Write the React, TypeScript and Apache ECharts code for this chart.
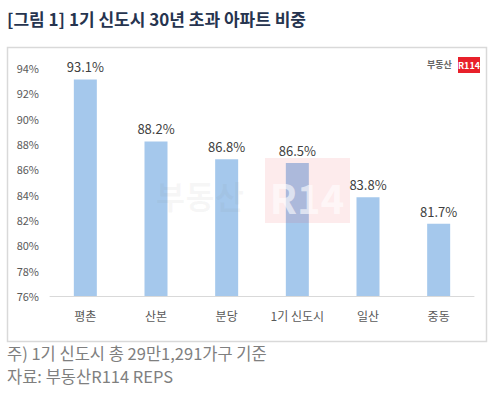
import React, { useEffect, useRef } from "react";
import * as echarts from "echarts";

const categories = ["평촌", "산본", "분당", "1기 신도시", "일산", "중동"];
const shares = [93.1, 88.2, 86.8, 86.5, 83.8, 81.7];
const yMin = 76;
const yMax = 94;
const yStep = 2;
const titleText = "[그림 1] 1기 신도시 30년 초과 아파트 비중";
const noteText = "주) 1기 신도시 총 29만1,291가구 기준";
const sourceText = "자료: 부동산R114 REPS";

const FONT = "'Malgun Gothic', 'Noto Sans CJK KR', 'Noto Sans', sans-serif";

export default function App() {
  const ref = useRef<HTMLDivElement>(null);
  useEffect(() => {
    if (!ref.current) return;
    const chart = echarts.init(ref.current, null, { renderer: "svg" });
    chart.setOption({
      animation: false,
      backgroundColor: "#ffffff",
      textStyle: { fontFamily: FONT },
      grid: { left: 50, right: 24, top: 68, bottom: 102 },
      xAxis: {
        type: "category",
        data: categories,
        axisLine: { lineStyle: { color: "#d9d9d9", width: 1 } },
        axisTick: { show: false },
        axisLabel: { color: "#595959", fontSize: 12, margin: 13, fontFamily: FONT },
      },
      yAxis: {
        type: "value",
        min: yMin,
        max: yMax,
        interval: yStep,
        splitLine: { show: false },
        axisLine: { show: false },
        axisTick: { show: false },
        axisLabel: {
          formatter: "{value}%",
          color: "#595959",
          fontSize: 11,
          margin: 11,
          fontFamily: FONT,
        },
      },
      series: [
        {
          type: "bar",
          data: shares,
          barWidth: 23,
          itemStyle: { color: "#a5c8ec" },
          label: {
            show: true,
            position: "top",
            distance: 6,
            formatter: (p: any) => p.value.toFixed(1) + "%",
            color: "#404040",
            fontSize: 13,
            fontFamily: FONT,
          },
        },
      ],
      graphic: [
        {
          type: "text",
          left: 7,
          top: 10,
          style: {
            text: titleText,
            fill: "#26344f",
            fontSize: 17,
            fontWeight: "bold",
            fontFamily: FONT,
          },
        },
        {
          type: "rect",
          shape: { x: 7.5, y: 47.5, width: 479, height: 294 },
          style: { fill: "none", stroke: "#d9d9d9", lineWidth: 1.5 },
          z: -1,
        },
        {
          type: "text",
          left: 7,
          top: 345,
          style: { text: noteText, fill: "#7f7f7f", fontSize: 16.5, fontFamily: FONT },
        },
        {
          type: "text",
          left: 7,
          top: 368,
          style: { text: sourceText, fill: "#7f7f7f", fontSize: 16.5, fontFamily: FONT },
        },
        {
          type: "text",
          x: 427,
          y: 60,
          style: { text: "부동산", fill: "#666666", fontSize: 9, fontWeight: "bold", fontFamily: FONT },
        },
        {
          type: "rect",
          shape: { x: 458, y: 57, width: 22, height: 16 },
          style: { fill: "#e8202a" },
        },
        {
          type: "text",
          x: 469,
          y: 65,
          style: {
            text: "R114",
            fill: "#ffffff",
            fontSize: 9,
            fontWeight: "bold",
            align: "center",
            verticalAlign: "middle",
            fontFamily: FONT,
          },
        },
        {
          type: "text",
          x: 200,
          y: 195,
          z: 10,
          style: {
            text: "부동산",
            fill: "rgba(120,120,120,0.06)",
            fontSize: 32,
            fontWeight: "bold",
            align: "center",
            verticalAlign: "middle",
            fontFamily: FONT,
          },
        },
        {
          type: "rect",
          z: 10,
          shape: { x: 265, y: 158, width: 85, height: 65 },
          style: { fill: "rgba(240,60,70,0.1)" },
        },
        {
          type: "text",
          x: 307,
          y: 197,
          z: 11,
          style: {
            text: "R14",
            fill: "rgba(255,255,255,0.6)",
            fontSize: 40,
            fontWeight: "bold",
            align: "center",
            verticalAlign: "middle",
            fontFamily: FONT,
          },
        },
      ],
    });
    return () => chart.dispose();
  }, []);
  return (
    <div
      ref={ref}
      style={{ position: "fixed", left: 0, top: 0, width: 498, height: 398 }}
    />
  );
}
